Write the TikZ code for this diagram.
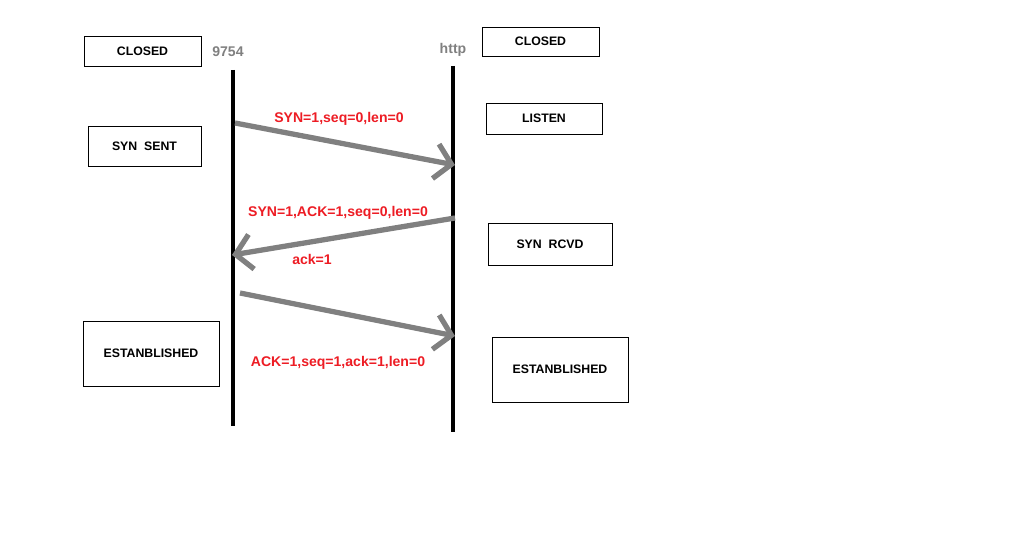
\documentclass[tikz,border=0pt]{standalone}
\usepackage{fontspec}
\setmainfont{Liberation Sans}
\usetikzlibrary{arrows.meta, positioning}
\definecolor{MsgRed}{RGB}{237, 28, 36}
\definecolor{WireGray}{RGB}{128, 128, 128}

\begin{document}
\begin{tikzpicture}[x=0.02cm, y=-0.02cm,
    statebox/.style={draw, line width=0.5pt, inner sep=0pt, font=\fontsize{7}{8}\selectfont\bfseries},
    hostlabel/.style={text=WireGray, font=\fontsize{8}{9}\selectfont\bfseries},
    lifeline/.style={black, line width=2.3pt},
    message/.style={-{Straight Barb[length=0.32cm, width=0.7cm]}, WireGray, line width=3pt},
    msglabel/.style={text=MsgRed, font=\fontsize{8}{9}\selectfont\bfseries}]
    % Marco de la imagen
    \useasboundingbox (0,0) rectangle (1015,543);

    % Lineas de vida de los dos extremos
    \coordinate (cTop) at (233,70);
    \coordinate (cBot) at (233,426);
    \coordinate (sTop) at (453,66);
    \coordinate (sBot) at (453,432);
    \draw[lifeline] (cTop) -- (cBot);
    \draw[lifeline] (sTop) -- (sBot);
    \node[hostlabel] (client) at (228,52) {9754};
    \node[hostlabel] (server) at (453,50) {http};

    % Estados del cliente
    \node[statebox, minimum width=2.34cm, minimum height=0.6cm] (cClosed) at (142.5,51) {CLOSED};
    \node[statebox, minimum width=2.26cm, minimum height=0.8cm] (cSent) at (144.5,146) {SYN\ \ SENT};
    \node[statebox, minimum width=2.72cm, minimum height=1.3cm] (cEst) at (151,353.5) {ESTANBLISHED};

    % Estados del servidor
    \node[statebox, minimum width=2.34cm, minimum height=0.58cm] (sClosed) at (540.5,41.5) {CLOSED};
    \node[statebox, minimum width=2.32cm, minimum height=0.62cm] (sListen) at (544,118.5) {LISTEN};
    \node[statebox, minimum width=2.48cm, minimum height=0.84cm] (sRcvd) at (550,244) {SYN\ \ RCVD};
    \node[statebox, minimum width=2.72cm, minimum height=1.3cm] (sEst) at (560,369.5) {ESTANBLISHED};

    % Mensajes del saludo de tres vias
    \coordinate (m1a) at (235,123);
    \coordinate (m1b) at (455,165);
    \coordinate (m2a) at (455,218);
    \coordinate (m2b) at (232,255);
    \coordinate (m3a) at (240,293);
    \coordinate (m3b) at (455,336);
    \draw[message] (m1a) -- (m1b);
    \draw[message] (m2a) -- (m2b);
    \draw[message] (m3a) -- (m3b);

    % Etiquetas de los mensajes
    \node[msglabel] (l1) at (339,119) {SYN=1,seq=0,len=0};
    \node[msglabel] (l2) at (338,213) {SYN=1,ACK=1,seq=0,len=0};
    \node[msglabel] (l2b) at (312,259) {ack=1};
    \node[msglabel] (l3) at (338,363) {ACK=1,seq=1,ack=1,len=0};
\end{tikzpicture}
\end{document}
